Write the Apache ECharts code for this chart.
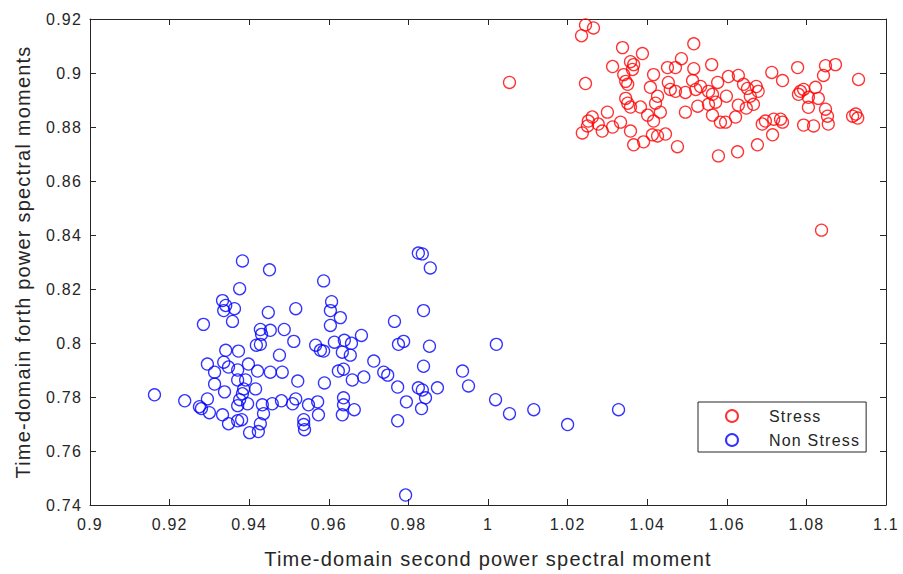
<!DOCTYPE html>
<html>
<head>
<meta charset="utf-8">
<script src="https://cdn.jsdelivr.net/npm/echarts@6/dist/echarts.min.js"></script>
<style>
  html, body { margin: 0; padding: 0; background: #ffffff; }
  #chart { width: 903px; height: 574px; }
  #chart text { letter-spacing: 1.2px; }
</style>
</head>
<body>
<div id="chart"></div>
<script>
// Tick labels of both axes
const xTickLabels = ['0.9', '0.92', '0.94', '0.96', '0.98', '1', '1.02', '1.04', '1.06', '1.08', '1.1'];
const yTickLabels = ['0.74', '0.76', '0.78', '0.8', '0.82', '0.84', '0.86', '0.88', '0.9', '0.92'];

// Series names
const seriesNames = ['Stress', 'Non Stress'];

// Stress group: second moment (x) and fourth moment (y)
const stressX = [
  1.0245, 1.0265, 1.0235, 1.0338, 1.0517, 1.0388, 1.0486, 1.0313, 1.0358, 1.0366,
  1.0363, 1.0451, 1.0471, 1.0517, 1.0562, 1.0341, 1.0416, 1.0346, 1.0351, 1.0245,
  1.0453, 1.0514, 1.0577, 1.0604, 1.0629, 1.0713, 1.0740, 1.0778, 1.0848, 1.0873,
  1.0843, 1.0931, 1.0408, 1.0426, 1.0458, 1.0471, 1.0496, 1.0522, 1.0534, 1.0554,
  1.0564, 1.0599, 1.0642, 1.0652, 1.0674, 1.0679, 1.0659, 1.0785, 1.0793, 1.0780,
  1.0823, 1.0805, 1.0830, 1.0346, 1.0351, 1.0358, 1.0383, 1.0421, 1.0433, 1.0401,
  1.0554, 1.0572, 1.0629, 1.0649, 1.0667, 1.0564, 1.0527, 1.0496, 1.0300, 1.0262,
  1.0252, 1.0250, 1.0277, 1.0237, 1.0287, 1.0313, 1.0333, 1.0358, 1.0416, 1.0584,
  1.0597, 1.0622, 1.0689, 1.0697, 1.0718, 1.0735, 1.0740, 1.0715, 1.0677, 1.0627,
  1.0579, 1.0793, 1.0818, 1.0805, 1.0848, 1.0853, 1.0855, 1.0916, 1.0929, 1.0924,
  1.0366, 1.0391, 1.0413, 1.0426, 1.0446, 1.0476, 1.0054, 1.0838
];
const stressY = [
  0.9178, 0.9167, 0.9138, 0.9094, 0.9108, 0.9072, 0.9053, 0.9024, 0.9042, 0.9031,
  0.9013, 0.9020, 0.9020, 0.9016, 0.9031, 0.8994, 0.8994, 0.8969, 0.8958, 0.8961,
  0.8965, 0.8972, 0.8965, 0.8987, 0.8991, 0.9002, 0.8972, 0.9020, 0.9027, 0.9031,
  0.8991, 0.8976, 0.8947, 0.8914, 0.8939, 0.8932, 0.8928, 0.8939, 0.8950, 0.8932,
  0.8921, 0.8914, 0.8958, 0.8943, 0.8950, 0.8932, 0.8914, 0.8932, 0.8939, 0.8921,
  0.8947, 0.8910, 0.8906, 0.8906, 0.8888, 0.8874, 0.8874, 0.8888, 0.8855, 0.8844,
  0.8884, 0.8892, 0.8881, 0.8870, 0.8884, 0.8844, 0.8877, 0.8855, 0.8855, 0.8837,
  0.8822, 0.8804, 0.8811, 0.8778, 0.8785, 0.8800, 0.8818, 0.8785, 0.8822, 0.8818,
  0.8818, 0.8837, 0.8811, 0.8822, 0.8829, 0.8829, 0.8818, 0.8771, 0.8734, 0.8708,
  0.8693, 0.8807, 0.8804, 0.8873, 0.8866, 0.8840, 0.8811, 0.8840, 0.8833, 0.8848,
  0.8734, 0.8745, 0.8771, 0.8767, 0.8774, 0.8727, 0.8965, 0.8418
];

// Non-stress group
const nonStressX = [
  0.9162, 0.9238, 0.9275, 0.9280, 0.9295, 0.9300, 0.9333, 0.9348, 0.9371, 0.9381,
  0.9338, 0.9313, 0.9371, 0.9391, 0.9386, 0.9383, 0.9376, 0.9371, 0.9396, 0.9416,
  0.9401, 0.9423, 0.9428, 0.9436, 0.9433, 0.9458, 0.9481, 0.9517, 0.9509, 0.9522,
  0.9589, 0.9549, 0.9572, 0.9574, 0.9537, 0.9537, 0.9539, 0.9421, 0.9453, 0.9483,
  0.9348, 0.9313, 0.9383, 0.9451, 0.9587, 0.9376, 0.9333, 0.9341, 0.9336, 0.9363,
  0.9607, 0.9604, 0.9448, 0.9517, 0.9285, 0.9358, 0.9604, 0.9428, 0.9453, 0.9488,
  0.9431, 0.9512, 0.9418, 0.9428, 0.9341, 0.9373, 0.9476, 0.9567, 0.9579, 0.9587,
  0.9614, 0.9295, 0.9336, 0.9371, 0.9398, 0.9825, 0.9835, 0.9629, 0.9765, 0.9639,
  0.9657, 0.9682, 0.9634, 0.9654, 0.9775, 0.9788, 0.9713, 0.9624, 0.9637, 0.9738,
  0.9748, 0.9659, 0.9688, 0.9773, 0.9637, 0.9637, 0.9634, 0.9664, 0.9795, 0.9773,
  0.9855, 0.9838, 0.9853, 1.0021, 0.9838, 0.9936, 0.9951, 0.9825, 0.9835, 0.9873,
  0.9843, 0.9833, 1.0019, 1.0054, 1.0115, 1.0328, 1.0200, 0.9793
];
const nonStressY = [
  0.7808, 0.7786, 0.7764, 0.7757, 0.7793, 0.7742, 0.7734, 0.7701, 0.7712, 0.7716,
  0.7819, 0.7848, 0.7863, 0.7863, 0.7830, 0.7812, 0.7790, 0.7768, 0.7775, 0.7830,
  0.7668, 0.7672, 0.7701, 0.7738, 0.7771, 0.7775, 0.7786, 0.7793, 0.7775, 0.7859,
  0.7852, 0.7771, 0.7782, 0.7734, 0.7716, 0.7698, 0.7679, 0.7896, 0.7892, 0.7892,
  0.7911, 0.7892, 0.8304, 0.8271, 0.8230, 0.8201, 0.8157, 0.8139, 0.8120, 0.8127,
  0.8153, 0.8120, 0.8113, 0.8127, 0.8069, 0.8080, 0.8065, 0.8050, 0.8047, 0.8050,
  0.8032, 0.8006, 0.7992, 0.7995, 0.7973, 0.7970, 0.7955, 0.7992, 0.7973, 0.7970,
  0.8003, 0.7922, 0.7929, 0.7900, 0.7922, 0.8333, 0.8330, 0.8094, 0.8080, 0.8010,
  0.7999, 0.8028, 0.7966, 0.7955, 0.7995, 0.8006, 0.7933, 0.7896, 0.7903, 0.7892,
  0.7881, 0.7863, 0.7874, 0.7837, 0.7797, 0.7771, 0.7734, 0.7753, 0.7782, 0.7712,
  0.8278, 0.8120, 0.7988, 0.7995, 0.7914, 0.7896, 0.7841, 0.7834, 0.7826, 0.7834,
  0.7797, 0.7757, 0.7790, 0.7738, 0.7753, 0.7753, 0.7698, 0.7437
];

const FONT = '"Liberation Sans", Arial, Helvetica, sans-serif';
const INK = '#262626';

function zip(xs, ys) { return xs.map((x, i) => [x, ys[i]]); }
function tickFormatter(labels) {
  return v => {
    const hit = labels.find(l => Math.abs(parseFloat(l) - v) < 1e-6);
    return hit === undefined ? '' : hit;
  };
}

const xMin = parseFloat(xTickLabels[0]);
const xMax = parseFloat(xTickLabels[xTickLabels.length - 1]);
const xStep = parseFloat(xTickLabels[1]) - xMin;
const yMin = parseFloat(yTickLabels[0]);
const yMax = parseFloat(yTickLabels[yTickLabels.length - 1]);
const yStep = parseFloat(yTickLabels[1]) - yMin;

const lineStyle = { color: INK, width: 1 };
const tickStyle = { show: true, inside: true, length: 6, lineStyle: { color: INK, width: 1 } };

function valueAxis(extra) {
  return Object.assign({
    type: 'value',
    axisLine: { show: true, onZero: false, lineStyle: lineStyle },
    axisTick: tickStyle,
    splitLine: { show: false },
  }, extra);
}

const chart = echarts.init(document.getElementById('chart'), null, { renderer: 'svg' });

chart.setOption({
  backgroundColor: '#ffffff',
  animation: false,
  grid: { left: 90, right: 17, top: 19, bottom: 65, containLabel: false },
  xAxis: [
    valueAxis({
      position: 'bottom',
      min: xMin, max: xMax, interval: xStep,
      axisLabel: { formatter: tickFormatter(xTickLabels), margin: 11, fontSize: 16, color: INK, fontFamily: FONT },
      name: 'Time-domain second power spectral moment',
      nameLocation: 'middle',
      nameGap: 44,
      nameTextStyle: { fontSize: 20, color: INK, fontFamily: FONT }
    }),
    valueAxis({
      position: 'top',
      min: xMin, max: xMax, interval: xStep,
      axisLabel: { show: false }
    })
  ],
  yAxis: [
    valueAxis({
      position: 'left',
      min: yMin, max: yMax, interval: yStep,
      axisLabel: { formatter: tickFormatter(yTickLabels), margin: 8, fontSize: 16, color: INK, fontFamily: FONT },
      name: 'Time-domain forth power spectral moments',
      nameLocation: 'middle',
      nameGap: 57,
      nameTextStyle: { fontSize: 20, color: INK, fontFamily: FONT }
    }),
    valueAxis({
      position: 'right',
      min: yMin, max: yMax, interval: yStep,
      axisLabel: { show: false }
    })
  ],
  legend: {
    orient: 'vertical',
    left: 698,
    top: 402,
    padding: [6, 18, 4, 27],
    itemWidth: 64,
    itemHeight: 12,
    itemGap: 8,
    borderColor: INK,
    borderWidth: 1,
    backgroundColor: '#ffffff',
    textStyle: { fontSize: 16, color: INK, fontFamily: FONT },
    data: seriesNames
  },
  series: [
    {
      name: seriesNames[0],
      type: 'scatter',
      symbol: 'circle',
      symbolSize: 12,
      itemStyle: { color: 'rgba(0,0,0,0)', borderColor: '#ff0000', borderWidth: 1.3 },
      data: zip(stressX, stressY)
    },
    {
      name: seriesNames[1],
      type: 'scatter',
      symbol: 'circle',
      symbolSize: 12,
      itemStyle: { color: 'rgba(0,0,0,0)', borderColor: '#0000ff', borderWidth: 1.3 },
      data: zip(nonStressX, nonStressY)
    }
  ]
});
</script>
</body>
</html>
